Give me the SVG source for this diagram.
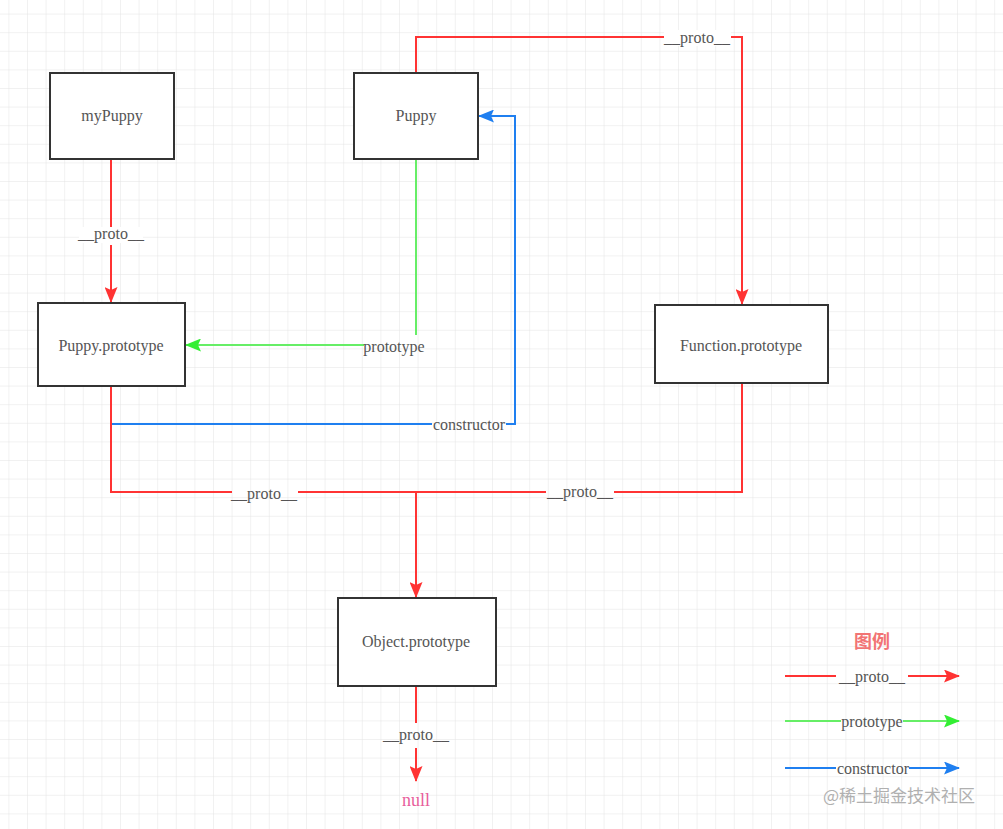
<svg xmlns="http://www.w3.org/2000/svg" width="1003" height="829" viewBox="0 0 1003 829">
<defs>
<pattern id="grid" x="8.4" y="13.6" width="18.6" height="18.6" patternUnits="userSpaceOnUse">
<path d="M0 0 H18.6 M0 0 V18.6" fill="none" stroke="#e4e4e4" stroke-width="1"/>
</pattern>
<marker id="ar" viewBox="0 0 16 13" refX="15" refY="6.5" markerWidth="16" markerHeight="13" markerUnits="userSpaceOnUse" orient="auto"><path d="M0 0 L16 6.5 L0 13 L3 6.5 Z" fill="#ff3333"/></marker>
<marker id="ag" viewBox="0 0 16 13" refX="15" refY="6.5" markerWidth="16" markerHeight="13" markerUnits="userSpaceOnUse" orient="auto"><path d="M0 0 L16 6.5 L0 13 L3 6.5 Z" fill="#33ee33"/></marker>
<marker id="ab" viewBox="0 0 16 13" refX="15" refY="6.5" markerWidth="16" markerHeight="13" markerUnits="userSpaceOnUse" orient="auto"><path d="M0 0 L16 6.5 L0 13 L3 6.5 Z" fill="#1f7ff0"/></marker>
</defs>
<style>
.box{fill:#fff;stroke:#333;stroke-width:2}
.t{font-family:"Liberation Serif","Times New Roman",serif;font-size:16px;fill:#555;text-anchor:middle}
.r{fill:none;stroke:#ff3333;stroke-width:2}
.g{fill:none;stroke:#66ee66;stroke-width:2}
.b{fill:none;stroke:#1f7ff0;stroke-width:2}
.bg{fill:#fff}
</style>
<rect width="1003" height="829" fill="#fff"/>
<rect width="1003" height="829" fill="url(#grid)"/>

<g id="connectors">
<path class="r" d="M111 159 V227 M111 245 V302" marker-end="url(#ar)"/>
<path class="r" d="M416 73 V37 H664 M731 37 H742 V304" marker-end="url(#ar)"/>
<path class="g" d="M416 159 V335 M364 345 H186" marker-end="url(#ag)"/>
<path class="b" d="M111 424 H432 M506 424 H515 V116 H479" marker-end="url(#ab)"/>
<path class="r" d="M111 387 V492 H232 M298 492 H546 M614 492 H742 V383"/>
<path class="r" d="M416 492 V597" marker-end="url(#ar)"/>
<path class="r" d="M416 686 V723 M416 748 V781" marker-end="url(#ar)"/>
<rect class="bg" x="664" y="30" width="67" height="16"/>
<text class="t" x="697" y="43">__proto__</text>
<rect class="bg" x="79" y="227" width="64" height="16"/>
<text class="t" x="111" y="239">__proto__</text>
<text class="t" x="394" y="352">prototype</text>
<text class="t" x="469" y="430">constructor</text>
<text class="t" x="264" y="499">__proto__</text>
<text class="t" x="580" y="497">__proto__</text>
<text class="t" x="416" y="740">__proto__</text>
</g>

<g id="myPuppy"><rect class="box" x="50" y="73" width="124" height="86"/><text class="t" x="112" y="121">myPuppy</text></g>
<g id="Puppy"><rect class="box" x="354" y="73" width="124" height="86"/><text class="t" x="416" y="121">Puppy</text></g>
<g id="PuppyPrototype"><rect class="box" x="38" y="303" width="147" height="83"/><text class="t" x="111" y="351">Puppy.prototype</text></g>
<g id="FunctionPrototype"><rect class="box" x="655" y="305" width="173" height="78"/><text class="t" x="741" y="351">Function.prototype</text></g>
<g id="ObjectPrototype"><rect class="box" x="338" y="598" width="158" height="88"/><text class="t" x="416" y="647">Object.prototype</text></g>
<g id="null"><text x="416" y="806" style="font-family:'Liberation Serif',serif;font-size:18px;fill:#e8609c;text-anchor:middle">null</text></g>

<g id="legend">
<text x="872" y="648" style="font-family:'Noto Sans CJK SC',sans-serif;font-size:18px;font-weight:bold;fill:#f27474;text-anchor:middle">图例</text>
<path class="r" d="M785 676 H836 M908 676 H959" marker-end="url(#ar)"/>
<text class="t" x="872" y="682">__proto__</text>
<path class="g" d="M785 721 H841 M903 721 H959" marker-end="url(#ag)"/>
<text class="t" x="872" y="727">prototype</text>
<path class="b" d="M785 768 H836 M909 768 H959" marker-end="url(#ab)"/>
<text class="t" x="873" y="774">constructor</text>
</g>
<text x="899" y="802" style="font-family:'Noto Sans CJK SC',sans-serif;font-size:17px;fill:#b0b0b0;text-anchor:middle">@稀土掘金技术社区</text>
</svg>
